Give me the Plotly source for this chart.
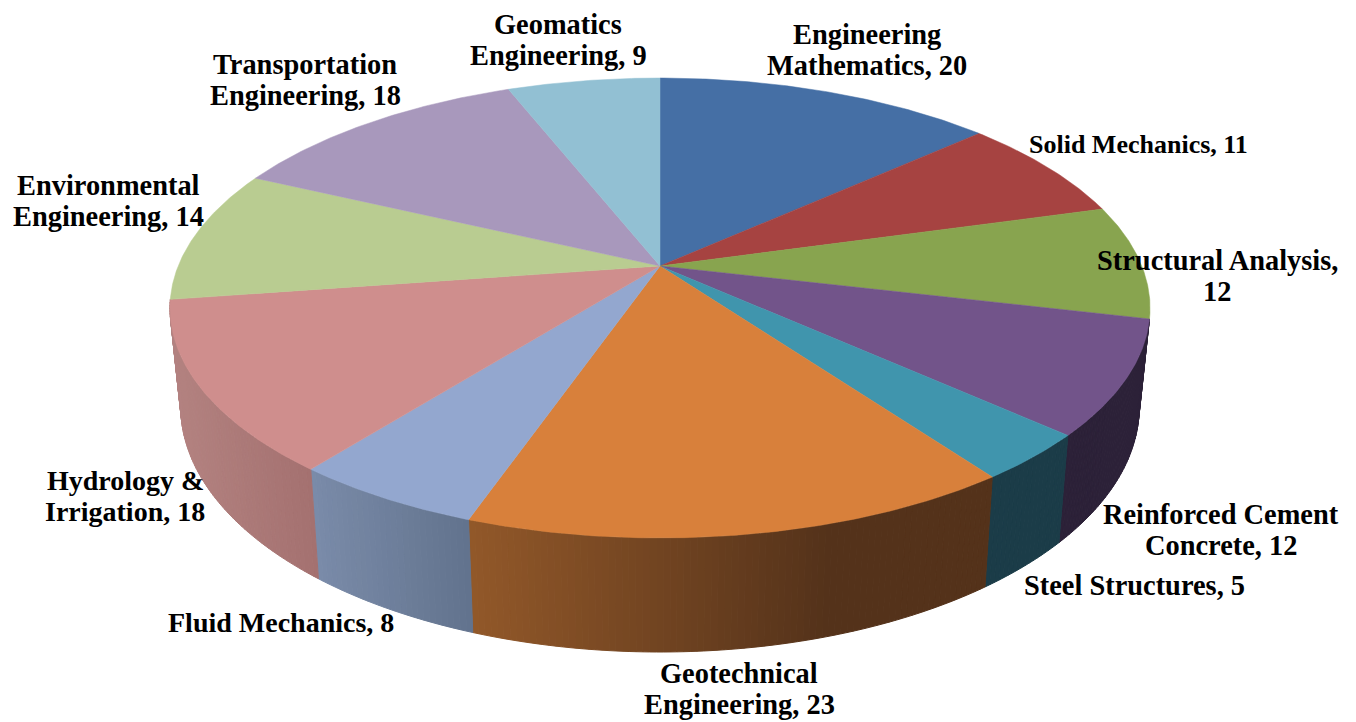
import math
import plotly.graph_objects as go

categories = ["Engineering Mathematics", "Solid Mechanics", "Structural Analysis",
              "Reinforced Cement Concrete", "Steel Structures", "Geotechnical Engineering",
              "Fluid Mechanics", "Hydrology & Irrigation", "Environmental Engineering",
              "Transportation Engineering", "Geomatics Engineering"]
values = [20, 11, 12, 12, 5, 23, 8, 18, 14, 18, 9]
label_text = ["Engineering<br>Mathematics, 20", "Solid Mechanics, 11", "Structural Analysis,<br>12",
              "Reinforced Cement<br>Concrete, 12", "Steel Structures, 5", "Geotechnical<br>Engineering, 23",
              "Fluid Mechanics, 8", "Hydrology &<br>Irrigation, 18", "Environmental<br>Engineering, 14",
              "Transportation<br>Engineering, 18", "Geomatics<br>Engineering, 9"]

# styling / layout
top_colors = ["#456FA5", "#A64341", "#88A44F", "#72548A", "#4095AD", "#D8803B",
              "#93A7CF", "#CF8E8D", "#B9CC91", "#A898BC", "#92C0D3"]
wall_left = ["#456FA5", "#A64341", "#88A44F", "#2C2138", "#1B3C48", "#925829",
             "#7A8BA9", "#B38280", "#B9CC91", "#A898BC", "#92C0D3"]
wall_right = ["#456FA5", "#A64341", "#88A44F", "#2C2138", "#1B3C48", "#54321A",
              "#62738D", "#A47170", "#B9CC91", "#A898BC", "#92C0D3"]
wall_span = [1, 1, 1, 1, 1, 1.45, 1, 1, 1, 1, 1]
label_x = [867, 1138, 1217, 1221, 1134, 739, 281, 125, 108, 305, 558]
label_y = [50, 144, 276, 530, 585, 689, 622, 496, 201, 80, 40]
label_size = [28.4, 26, 28.4, 28.4, 28.4, 28.4, 28, 28, 28.4, 28.4, 28.4]
LINE_GAP = 31
CX, CY, RX, RY, K = 660.0, 266.0, 481.8, 222.3, 0.1826


def project(deg, base=False):
    a = math.radians(deg)
    u, v = math.sin(a), math.cos(a)
    w = 1 + K * v
    x = CX + RX * u / w
    y = CY - RY * v / w
    if base:
        x = CX + 0.978 * (x - CX)
        y = 1.067 * y + 78
    return x, y


def mix(c1, c2, t):
    p = [int(c1[i:i + 2], 16) for i in (1, 3, 5)]
    q = [int(c2[i:i + 2], 16) for i in (1, 3, 5)]
    return "rgb(%d,%d,%d)" % tuple(round(a + (b - a) * t) for a, b in zip(p, q))


def patch(xs, ys, color, width=1.0):
    return go.Scatter(x=xs, y=ys, mode="lines", fill="toself", fillcolor=color,
                      line=dict(color=color, width=width), hoverinfo="skip", showlegend=False)


fig = go.Figure()
total = sum(values)
edges = [0.0]
for val in values:
    edges.append(edges[-1] + val / total * 360)

# side walls of the slices on the near half of the pie, shaded per slice
for i, val in enumerate(values):
    lo, hi = edges[i], edges[i + 1]
    if not 90 < (lo + hi) / 2 < 270:
        continue
    n = max(2, int((hi - lo) * 1.5))
    x_right = project(lo)[0]
    x_left = project(hi)[0]
    for k in range(n):
        d0 = lo + (hi - lo) * k / n
        d1 = lo + (hi - lo) * (k + 1) / n
        p0, p1 = project(d0), project(d1)
        b0, b1 = project(d0, True), project(d1, True)
        s = ((p0[0] + p1[0]) / 2 - x_left) / max(1.0, x_right - x_left)
        s = min(1.0, s * wall_span[i])
        col = mix(wall_left[i], wall_right[i], s)
        fig.add_trace(patch([p0[0], p1[0], b1[0], b0[0], p0[0]],
                            [p0[1], p1[1], b1[1], b0[1], p0[1]], col))

# top surface
for i, val in enumerate(values):
    a0, a1 = edges[i], edges[i + 1]
    n = max(3, int((a1 - a0) * 2))
    pts = [project(a0 + (a1 - a0) * k / n) for k in range(n + 1)]
    xs = [CX] + [p[0] for p in pts] + [CX]
    ys = [CY] + [p[1] for p in pts] + [CY]
    fig.add_trace(patch(xs, ys, top_colors[i], 0.5))

for txt, x, y, size in zip(label_text, label_x, label_y, label_size):
    lines = txt.split("<br>")
    y0 = y - LINE_GAP * (len(lines) - 1) / 2
    for j, line in enumerate(lines):
        fig.add_annotation(x=x, y=y0 + j * LINE_GAP, xref="x", yref="y", text=line, showarrow=False,
                           xanchor="center", yanchor="middle", align="center",
                           font=dict(family="Liberation Serif", size=size, color="black", weight="bold"))

# the page body has an 8 px margin: axis ranges are chosen so data units equal window pixels
fig.update_layout(width=1348, height=714, margin=dict(l=0, r=0, t=0, b=0),
                  paper_bgcolor="white", plot_bgcolor="white", showlegend=False,
                  xaxis=dict(range=[8, 1356], visible=False, fixedrange=True),
                  yaxis=dict(range=[722, 8], visible=False, fixedrange=True))
fig.write_html("out.html", config={"displayModeBar": False})
